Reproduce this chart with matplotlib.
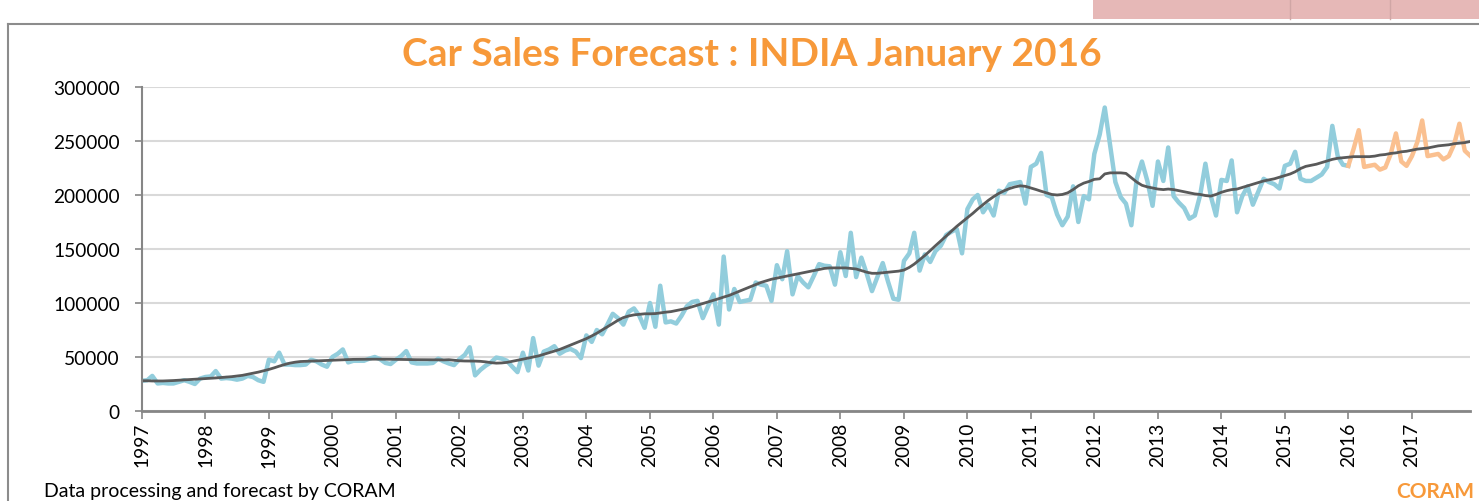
import numpy as np
import pandas as pd
import matplotlib
matplotlib.use('Agg')
import matplotlib.pyplot as plt
from matplotlib.patches import Rectangle
from matplotlib.lines import Line2D

plt.rcParams['font.family'] = ['Lato', 'DejaVu Sans']

# monthly index Jan 1997 .. Dec 2017
months = pd.date_range('1997-01-01', '2017-12-01', freq='MS')
years = list(range(1997, 2018))

# actual sales, Jan 1997 .. Jan 2016
actual = [
    28000, 28500, 32500, 25500, 26000, 25500, 25500, 27000, 28500, 27000, 25000, 30000,  # 1997
    31500, 32000, 37000, 30000, 30500, 30000, 29000, 30000, 32500, 31500, 28500, 27000,  # 1998
    47500, 46000, 54000, 43000, 43000, 42500, 42500, 43000, 47500, 46000, 43000, 41000,  # 1999
    50000, 53000, 57000, 45000, 46500, 46500, 46500, 48500, 50000, 48000, 44500, 43500,  # 2000
    47500, 51000, 55500, 45000, 44000, 44000, 44000, 44500, 48500, 46000, 44000, 42500,  # 2001
    48000, 52000, 59000, 33000, 38000, 42000, 45000, 49500, 48500, 46500, 41000, 36000,  # 2002
    54000, 37500, 67500, 42000, 55000, 57000, 60000, 53000, 56000, 57500, 55000, 49000,  # 2003
    70000, 64000, 75000, 71000, 80000, 90000, 86000, 80000, 92000, 95000, 88000, 77000,  # 2004
    100000, 78000, 116000, 82000, 83000, 81000, 88000, 97000, 101000, 102000, 86000, 97000,  # 2005
    108000, 80000, 143000, 94000, 113000, 101000, 102000, 103000, 119000, 117000, 116000, 102000,  # 2006
    135000, 122000, 148000, 108000, 125000, 119000, 114500, 125000, 136000, 134500, 134000, 117000,  # 2007
    147000, 125000, 165000, 124000, 142000, 127000, 111000, 124000, 137000, 120000, 104000, 103000,  # 2008
    139000, 146000, 165000, 130000, 145000, 138000, 148000, 153000, 163000, 166000, 168500, 146000,  # 2009
    187000, 196000, 200000, 184000, 191000, 181000, 204000, 202000, 210000, 211000, 212000, 192000,  # 2010
    226000, 229000, 239000, 200000, 198000, 182000, 172000, 180000, 208000, 175000, 199000, 196000,  # 2011
    238000, 256000, 281000, 246000, 212000, 198000, 192000, 172000, 215000, 231000, 213000, 190000,  # 2012
    231000, 213000, 244000, 199000, 193000, 188000, 178000, 181000, 200000, 229000, 199000, 181000,  # 2013
    214000, 213000, 232000, 184000, 199000, 208000, 191000, 203000, 215000, 212000, 210000, 206000,  # 2014
    227000, 229000, 240000, 215000, 213000, 213000, 216000, 219000, 226000, 264000, 236000, 228000,  # 2015
    227000,
]

# forecast, Jan 2016 .. Dec 2017
forecast = [
    227000, 243000, 260000, 226000, 227000, 228000, 223500, 225500, 238000, 257000, 231000, 227000,
    236000, 249000, 269000, 236000, 237000, 238000, 233000, 236000, 247000, 266000, 241000, 236500,
]

# smoothed trend, Jan 1997 .. Dec 2017
trend = [
    28000, 28000, 27800, 27800, 27800, 28000, 28200, 28500, 28800, 29000, 29300, 29600,
    30000, 30300, 30600, 31000, 31300, 31800, 32400, 33000, 34000, 35000, 36000, 37200,
    38500, 40000, 41500, 43000, 44300, 45200, 45800, 46000, 46200, 46300, 46500, 46800,
    47000, 47200, 47400, 47600, 47800, 47800, 47900, 48000, 48000, 48000, 48000, 47900,
    47800, 47700, 47600, 47500, 47500, 47500, 47500, 47500, 47400, 47300, 47500, 47000,
    46500, 46300, 46300, 46200, 46000, 45500, 44800, 44300, 44500, 45000, 46000, 47000,
    48000, 49000, 50000, 51000, 52500, 54000, 55500, 57000, 59000, 61000, 63000, 65000,
    67000, 69500, 72000, 75000, 78000, 81000, 84000, 86500, 88000, 89000, 89500, 90000,
    90000, 90200, 90800, 91500, 92000, 93000, 94000, 95000, 96500, 98000, 99500, 101000,
    102500, 104000, 105500, 107000, 109000, 111000, 113000, 115000, 117000, 119000, 120500, 122000,
    123000, 124000, 125000, 126000, 127000, 128000, 129000, 130000, 131000, 132000, 132500, 132500,
    132500, 132500, 132000, 131500, 130000, 128500, 127500, 127500, 128000, 128500, 129000, 129500,
    130500, 133000, 136000, 140000, 144000, 148500, 153000, 157500, 162000, 166500, 171000, 175000,
    179000, 183000, 187000, 191000, 195000, 198500, 201500, 204000, 206000, 207500, 208500, 208000,
    206500, 205000, 203500, 202000, 200500, 200000, 200500, 202000, 205000, 208500, 211000, 212500,
    214500, 215000, 219500, 220500, 220500, 220500, 220000, 216000, 212000, 209000, 207500, 206500,
    205500, 205000, 205500, 205000, 204000, 203000, 202000, 201000, 200500, 199500, 199000, 200500,
    202500, 204000, 205000, 205500, 207000, 208500, 210000, 211500, 213000, 214000, 215000, 216500,
    218000, 219500, 221500, 224500, 226500, 227500, 228500, 230000, 231500, 233000, 234000, 234500,
    235000, 235500, 235500, 235500, 235500, 236000, 237000, 237500, 238500, 239000, 240000, 240500,
    241500, 242500, 243000, 243500, 244500, 245500, 246000, 246500, 247500, 248000, 248500, 249500,
]

W, H = 1479, 502
fig = plt.figure(figsize=(W / 100, H / 100), dpi=100)
fig.patch.set_facecolor('white')

# sheet leftovers: pink cells at top right and chart border
fig.add_artist(Rectangle((1093 / W, 1 - 20 / H), (W - 1093) / W, 20 / H,
                         transform=fig.transFigure, color='#E6B8B7', lw=0))
for xs in (1290, 1390):
    fig.add_artist(Line2D([xs / W, xs / W], [1 - 20 / H, 1], transform=fig.transFigure,
                          color='#D0A6A5', lw=1))
fig.add_artist(Line2D([8 / W, 8 / W], [0, 1 - 25 / H], transform=fig.transFigure,
                      color='#8C8C8C', lw=1.5))
fig.add_artist(Line2D([8 / W, 1], [1 - 25 / H, 1 - 25 / H], transform=fig.transFigure,
                      color='#8C8C8C', lw=1.5))

ax = fig.add_axes([142 / W, 90 / H, 1328 / W, 324 / H])

ax.plot(months[:len(actual)], actual, color='#92CDDC', lw=3.2, solid_joinstyle='round')
ax.plot(months[len(actual) - 1:], forecast, color='#FAC090', lw=3.2, solid_joinstyle='round')
ax.plot(months, trend, color='#595959', lw=2)

ax.set_xlim(months[0], months[-1])
ax.set_ylim(0, 300000)
ax.set_yticks(range(0, 300001, 50000))
ax.set_yticklabels([str(v) for v in range(0, 300001, 50000)])
ax.set_xticks(pd.to_datetime([f'{y}-01-01' for y in years]))
ax.set_xticklabels([str(y) for y in years], rotation=90)

ax.yaxis.grid(True, color='#D9D9D9', lw=1.5)
ax.set_axisbelow(True)
for s in ('top', 'right'):
    ax.spines[s].set_visible(False)
ax.spines['left'].set_color('#868686')
ax.spines['left'].set_linewidth(1.5)
ax.spines['bottom'].set_color('#868686')
ax.spines['bottom'].set_linewidth(2)
ax.tick_params(axis='y', colors='#868686', labelcolor='black', length=5, width=1.2,
               labelsize=13.8, pad=11)
ax.tick_params(axis='x', colors='#868686', labelcolor='black', length=6, width=1.2,
               labelsize=13.8, pad=2)

fig.text(752 / W, 1 - 55 / H, 'Car Sales Forecast : INDIA January 2016', ha='center',
         va='center', fontsize=28, fontweight='bold', color='#F7993A')
fig.text(44 / W, 1 - 492 / H, 'Data processing and forecast by CORAM', ha='left',
         va='center', fontsize=14, color='black')
fig.text(1474 / W, 1 - 492 / H, 'CORAM', ha='right', va='center', fontsize=15,
         fontweight='bold', color='#F7993A')

fig.savefig('out.png', dpi=100)
